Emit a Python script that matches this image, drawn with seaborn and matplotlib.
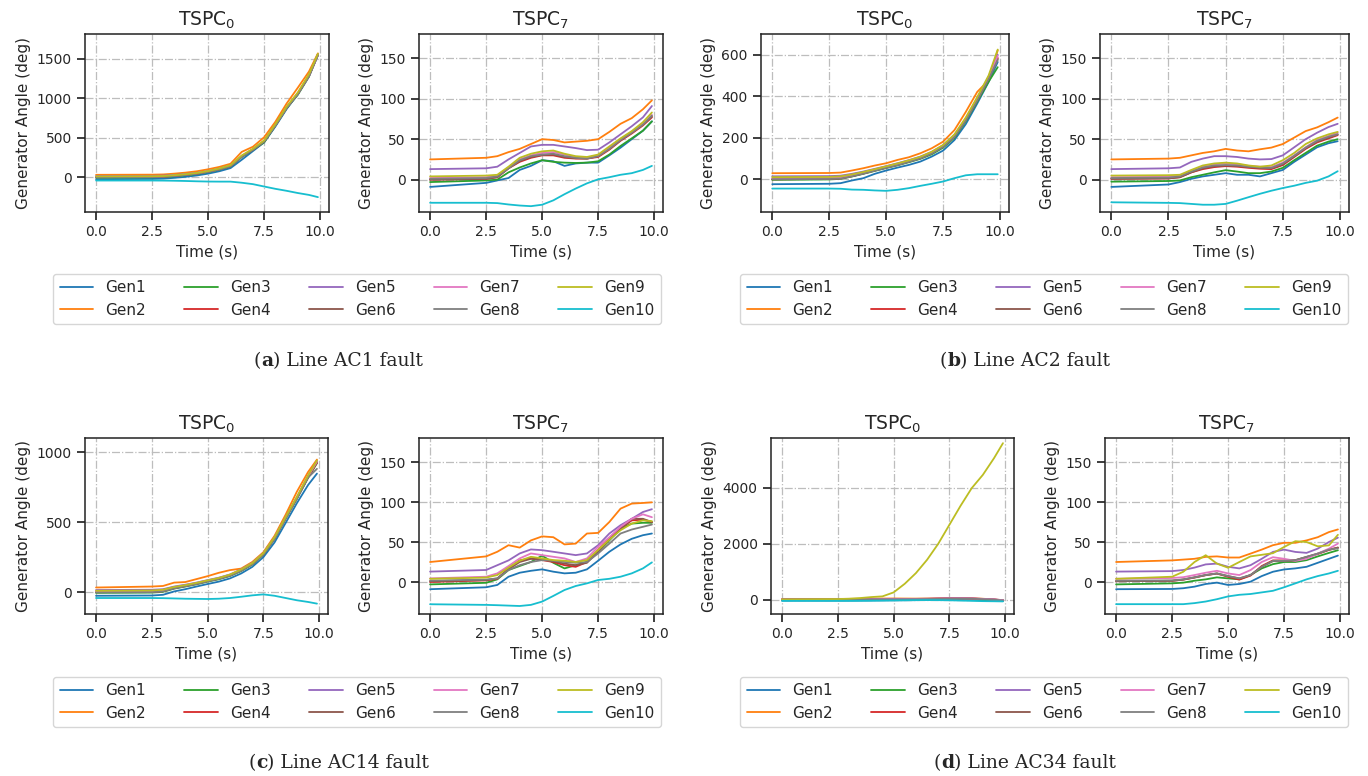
import matplotlib
matplotlib.use("Agg")
import matplotlib.pyplot as plt
from matplotlib.ticker import MultipleLocator
import pandas as pd
import seaborn as sns

# sample times (s)
TIME = [0, 2.5, 3, 3.5, 4, 4.5, 5, 5.5, 6, 6.5, 7, 7.5, 8, 8.5, 9, 9.5, 9.9]
GENS = ["Gen1", "Gen2", "Gen3", "Gen4", "Gen5", "Gen6", "Gen7", "Gen8", "Gen9", "Gen10"]

# --- (a) Line AC1 fault ---
AC1_TSPC0 = [
    [-25, -22, -18, -8, 5, 22, 45, 75, 115, 220, 330, 440, 640, 860, 1050, 1280, 1550],
    [30, 32, 35, 45, 58, 75, 100, 130, 170, 320, 385, 505, 700, 930, 1130, 1335, 1565],
    [-5, -2, 2, 12, 25, 40, 65, 95, 135, 255, 345, 440, 650, 870, 1040, 1270, 1545],
    [0, 3, 6, 16, 30, 45, 70, 100, 140, 262, 350, 455, 660, 880, 1055, 1285, 1550],
    [15, 17, 20, 28, 40, 55, 78, 108, 148, 265, 352, 460, 655, 875, 1050, 1275, 1540],
    [2, 5, 8, 18, 32, 48, 72, 102, 142, 260, 348, 452, 658, 878, 1052, 1282, 1548],
    [5, 8, 11, 21, 34, 50, 74, 104, 145, 268, 355, 458, 662, 882, 1060, 1288, 1552],
    [0, 3, 6, 16, 29, 45, 69, 99, 139, 258, 347, 450, 655, 873, 1048, 1278, 1545],
    [10, 12, 15, 25, 38, 54, 78, 110, 152, 275, 360, 465, 670, 890, 1070, 1300, 1560],
    [-42, -42, -43, -45, -48, -52, -55, -56, -56, -70, -88, -118, -147, -172, -200, -224, -252],
]
AC1_TSPC7 = [
    [-9, -4, -1, 2, 12, 17, 24, 22.7, 17, 20, 21, 21, 30, 39.5, 50, 60.5, 72],
    [25, 27, 29, 34, 38, 44, 50, 49, 46, 47, 48, 50, 59, 69, 76, 87, 98],
    [-3, -1, 0, 9, 15, 20, 24, 22, 21, 20.6, 21, 22.7, 31, 41.6, 51, 60.5, 72],
    [0, 1, 3, 14, 22, 27, 30, 30, 27, 26, 26, 28, 37, 48, 57, 67, 77],
    [13, 14, 16, 25, 33, 41, 43, 43, 41, 39, 36.5, 37, 46, 56, 66, 77, 91],
    [0, 1, 3, 14, 23, 28, 30.5, 31, 28, 26.5, 26, 29, 38, 49, 58, 68, 78],
    [2, 3, 5, 15, 25, 30, 33, 34, 31, 28, 27, 30, 39, 50, 59, 69, 80],
    [1, 2, 4, 14, 24, 29, 31, 32, 29, 27, 26, 29, 38, 49, 58, 68, 79],
    [4, 5, 6, 16, 27, 32, 35, 36, 32, 29, 28, 31, 41, 51, 60, 71, 83],
    [-28.6, -28.6, -29, -30.7, -32, -32.8, -31, -25.6, -18, -11, -4.6, 0.4, 3, 6, 8, 12, 17],
]

# --- (b) Line AC2 fault ---
AC2_TSPC0 = [
    [-24, -22, -19, -6, 5, 26, 42, 56, 69, 85, 109, 138, 189, 266, 365, 469, 565],
    [29, 30, 32, 42, 53, 66, 77, 93, 106, 125, 149, 181, 237, 325, 421, 477, 621],
    [-3, -1, 2, 13, 26, 40, 54, 67, 82, 98, 120, 152, 200, 280, 375, 470, 540],
    [0, 1, 4, 15, 28, 43, 57, 70, 86, 102, 126, 158, 207, 287, 383, 487, 585],
    [14, 15, 17, 26, 37, 50, 63, 77, 92, 109, 132, 164, 213, 293, 390, 495, 600],
    [0, 1, 4, 15, 28, 42, 56, 69, 85, 101, 125, 157, 205, 285, 381, 485, 580],
    [5, 6, 9, 19, 31, 45, 59, 72, 88, 104, 128, 160, 210, 290, 386, 490, 595],
    [0, 1, 3, 14, 27, 41, 55, 68, 84, 100, 124, 156, 204, 284, 380, 484, 575],
    [10, 11, 14, 23, 35, 48, 62, 76, 91, 108, 132, 165, 216, 298, 396, 500, 625],
    [-45, -45, -46, -50, -51, -54, -56, -51, -43, -32, -22, -11, 5, 19, 24, 24, 24],
]
AC2_TSPC7 = [
    [-9, -6, -3, 1, 4, 6, 8, 6, 6, 4, 8, 12, 22, 31, 40, 45, 47.5],
    [25, 26, 27, 30, 33, 35, 38, 36, 35, 37.5, 39.6, 44, 52, 60, 64.6, 71, 76.7],
    [-2.5, -1.7, -1, 3, 6, 9, 11.7, 10, 8, 8, 10, 14.6, 24, 33, 42, 47, 50],
    [1, 1.5, 3, 9, 13, 15.5, 16.7, 16, 14.6, 13.5, 13, 18, 28, 38, 46, 51, 55],
    [13, 14, 15, 22, 26, 29, 29, 28, 26, 25, 25.4, 30, 40, 50, 58, 65, 69],
    [1, 1.5, 3, 9, 14, 16.5, 17.5, 17, 15.5, 14.5, 14, 19, 29, 39, 47, 52, 56],
    [3, 3.5, 5, 11, 16, 19, 20, 19, 17, 16, 15.5, 21, 30, 40, 49, 54, 58],
    [2, 2.5, 4, 10, 15, 17.5, 18, 17.5, 16, 15, 14.5, 20, 29.5, 39.5, 48, 53, 56],
    [5, 5.5, 6, 12, 17.5, 20, 21, 20, 17.5, 16, 17.5, 24, 33, 44, 51, 56, 59],
    [-28, -28.7, -29, -30, -31, -31, -30, -26, -21.7, -17.5, -13.7, -10.4, -7.5, -4, -1.3, 4, 10.4],
]

# --- (c) Line AC14 fault ---
AC14_TSPC0 = [
    [-26, -24, -19, 5, 21, 40, 58, 75, 98, 133, 180, 250, 355, 495, 635, 764, 846],
    [33, 40, 44, 68, 72, 93, 114, 138, 157, 168, 215, 285, 402, 554, 717, 857, 946],
    [-5, -3, 2, 25, 40, 56, 75, 92, 115, 150, 197, 268, 380, 525, 665, 815, 920],
    [0, 2, 7, 29, 44, 60, 79, 96, 119, 155, 201, 271, 384, 528, 670, 820, 925],
    [15, 17, 21, 40, 53, 68, 86, 103, 126, 162, 208, 277, 390, 535, 676, 828, 935],
    [0, 2, 8, 30, 45, 61, 80, 97, 120, 156, 202, 272, 385, 530, 672, 822, 928],
    [5, 7, 12, 33, 47, 63, 82, 99, 123, 159, 205, 275, 388, 533, 675, 826, 932],
    [-2, 0, 5, 27, 42, 58, 77, 94, 117, 152, 199, 269, 382, 526, 668, 818, 880],
    [10, 12, 17, 37, 50, 66, 84, 101, 125, 161, 207, 278, 392, 537, 680, 832, 940],
    [-42, -42, -43, -45, -47, -48, -49, -47, -42, -33, -23, -16, -26, -42, -58, -70, -82],
]
AC14_TSPC7 = [
    [-9, -6.6, -3.7, 6.6, 11.6, 14, 15.8, 12.9, 10.8, 11.6, 15.8, 26.6, 37.8, 47, 54, 58.5, 60.6],
    [25, 32, 37.8, 46, 43, 52, 57, 56, 47, 48, 60.6, 61.4, 75, 91.7, 98, 98.8, 99.6],
    [-3, -1, 3.3, 15, 20, 25, 33, 24, 17, 21, 25, 37.8, 52, 67, 73, 74, 74],
    [0, 2, 4, 17, 27, 29.5, 27.4, 25, 21, 19, 25, 40, 54, 67, 77, 78, 75],
    [13, 15, 21, 27, 35.7, 40.7, 39.8, 37.8, 35.7, 33.6, 35.7, 46, 60.6, 71, 79, 87.5, 91],
    [1, 2.5, 4.5, 16, 25, 29, 28, 26, 23, 21, 24, 38, 53, 66, 79, 79, 75],
    [4.5, 6.6, 10.8, 20, 29.5, 35.7, 33.6, 31.5, 29.5, 25, 29.5, 44, 56, 69, 79, 84.6, 81],
    [1.7, 3, 4.5, 15, 21, 25, 27.4, 26.6, 25, 24, 25, 35.7, 48, 60.6, 65.6, 69, 71.8],
    [4, 5.5, 8.7, 18, 26.6, 31.5, 29.5, 27.4, 26.6, 25, 27.4, 40, 53, 64.7, 73, 77, 76],
    [-27.8, -28.6, -29, -29.5, -30, -28.6, -24.5, -17.4, -10, -5, -1.7, 2.5, 4, 6.6, 10.8, 17, 24.5],
]

# --- (d) Line AC34 fault ---
AC34_TSPC0 = [
    [-30, -30, -30, -28, -25, -22, -20, -18, -15, -10, -8, -5, -5, -10, -20, -30, -45],
    [30, 30, 31, 34, 38, 42, 45, 42, 40, 45, 55, 62, 65, 55, 35, 10, -15],
    [-5, -5, -4, -2, 2, 5, 8, 10, 12, 15, 18, 20, 18, 12, 0, -15, -30],
    [0, 0, 1, 4, 8, 12, 15, 18, 22, 28, 35, 42, 45, 40, 25, 5, -20],
    [15, 15, 16, 19, 22, 25, 28, 28, 30, 35, 42, 48, 50, 45, 30, 10, -15],
    [0, 0, 1, 4, 7, 10, 14, 16, 20, 26, 33, 40, 42, 38, 22, 3, -22],
    [5, 5, 6, 9, 13, 17, 20, 22, 26, 32, 40, 47, 50, 44, 28, 8, -18],
    [0, 0, 1, 3, 6, 9, 12, 14, 18, 24, 30, 36, 38, 34, 20, 0, -25],
    [10, 24, 36, 60, 95, 120, 262, 571, 952, 1428, 2000, 2678, 3357, 3988, 4464, 5060, 5595],
    [-40, -40, -40, -38, -35, -30, -25, -20, -15, -12, -15, -20, -30, -40, -50, -55, -60],
]
AC34_TSPC7 = [
    [-9, -8.7, -7.8, -5.8, -2.5, -0.8, -3.7, -2.5, 0.4, 7.4, 12.8, 15.7, 17, 19, 24, 29, 33],
    [25, 27, 28, 29, 31.4, 32, 30.6, 30.6, 35.5, 40.5, 46, 49, 49, 52, 56, 62.4, 65.7],
    [-3, -1.7, -0.8, 1.6, 3.3, 5.8, 4.5, 3.3, 8.7, 17, 22.3, 25, 25, 27.3, 32, 36.4, 39.7],
    [1, 1.5, 3, 5.5, 8.5, 10.5, 6.5, 3, 8, 20, 27, 27, 27, 31, 35, 40, 43],
    [13, 13.6, 15, 18, 22, 23, 19, 17, 21, 29, 37.6, 40.5, 37.6, 36.4, 41.7, 50, 55.4],
    [1, 1.5, 3, 5.8, 8.7, 10.7, 7.4, 4.5, 8.7, 19, 26, 26.4, 27.3, 31.4, 35.5, 40.5, 43],
    [4, 5, 6, 8.7, 11.6, 14, 10.7, 8.7, 14.9, 25, 31, 29, 26.4, 29, 35.5, 41.7, 48],
    [1.6, 2, 3.3, 5.8, 8.7, 10.7, 7.4, 4.5, 8.7, 19, 26.4, 26.4, 27.3, 31.4, 35.5, 40.5, 42],
    [4, 6.6, 12.8, 25, 33.5, 23, 17.8, 25, 32, 34, 36, 43.8, 51, 50, 44.6, 45.8, 59],
    [-27.7, -27.7, -27.7, -26.4, -24.4, -21.5, -18, -16, -15, -13, -11, -6.6, -1.7, 3.3, 7.4, 10.7, 14],
]

CASES = ["AC1", "AC2", "AC14", "AC34"]
TAGS = ["a", "b", "c", "d"]
SERIES = {
    "AC1": (AC1_TSPC0, AC1_TSPC7),
    "AC2": (AC2_TSPC0, AC2_TSPC7),
    "AC14": (AC14_TSPC0, AC14_TSPC7),
    "AC34": (AC34_TSPC0, AC34_TSPC7),
}

# layout (pixels in a 1368x776 canvas)
W, H = 1368, 776
AX_PX = {  # case: ((left0, width0), (left7, width7), top, bottom)
    "AC1": ((85, 244), (419, 244), 34, 212),
    "AC2": ((761, 248), (1100, 249), 34, 212),
    "AC14": ((85, 243), (419, 244), 438, 614),
    "AC34": ((771, 243), (1105, 244), 438, 614),
}
T0_YLIM = {"AC1": (-440, 1810), "AC2": (-158, 700), "AC14": (-156, 1100), "AC34": (-510, 5780)}
T0_STEP = {"AC1": 500, "AC2": 200, "AC14": 500, "AC34": 2000}
LEGEND_PX = {"AC1": (357, 299), "AC2": (1044, 299), "AC14": (357, 702), "AC34": (1044, 702)}
CAPTION_PX = {"AC1": (338, 361), "AC2": (1025, 361), "AC14": (339, 763), "AC34": (1025, 763)}

sns.set_theme(style="ticks", context="notebook", rc={
    "xtick.labelsize": 10, "ytick.labelsize": 10,
    "axes.labelsize": 11, "axes.titlesize": 13.5,
    "axes.linewidth": 1.1,
})
plt.rcParams["font.family"] = ["DejaVu Sans"]


def long_frame(block):
    rows = []
    for gen, vals in zip(GENS, block):
        for t, v in zip(TIME, vals):
            rows.append((t, v, gen))
    return pd.DataFrame(rows, columns=["Time", "Angle", "Generator"])


def style_axes(ax, title):
    ax.set_title(title)
    ax.set_xlabel("Time (s)")
    ax.set_ylabel("Generator Angle (deg)")
    ax.set_xlim(-0.495, 10.395)
    ax.xaxis.set_major_locator(MultipleLocator(2.5))
    ax.grid(True, linestyle="-.", color="#bdbdbd", linewidth=0.9)
    ax.set_axisbelow(True)
    for s in ax.spines.values():
        s.set_visible(True)
        s.set_color("#222222")


def caption(fig, renderer, cx, cy, parts):
    texts = []
    for txt, bold in parts:
        t = fig.text(0, 1 - cy / H, txt, fontsize=13.5, va="center", ha="left",
                     family=["DejaVu Serif"], fontweight="bold" if bold else "normal")
        texts.append(t)
    widths = [t.get_window_extent(renderer).width for t in texts]
    x = cx - sum(widths) / 2
    for t, w in zip(texts, widths):
        t.set_x(x / W)
        x += w


def main():
    fig = plt.figure(figsize=(W / 100, H / 100), dpi=100)
    palette = dict(zip(GENS, sns.color_palette("tab10", 10)))
    renderer = fig.canvas.get_renderer()

    for case, tag in zip(CASES, TAGS):
        (l0, w0), (l7, w7), top, bot = AX_PX[case]
        h = (bot - top) / H
        y = 1 - bot / H
        ax0 = fig.add_axes([l0 / W, y, w0 / W, h])
        ax7 = fig.add_axes([l7 / W, y, w7 / W, h])
        blocks = SERIES[case]

        for ax, block, title in ((ax0, blocks[0], r"TSPC$_0$"), (ax7, blocks[1], r"TSPC$_7$")):
            df = long_frame(block)
            sns.lineplot(data=df, x="Time", y="Angle", hue="Generator", hue_order=GENS,
                         palette=palette, estimator=None, sort=True, legend=False,
                         linewidth=1.3, ax=ax)
            style_axes(ax, title)

        ax0.set_ylim(*T0_YLIM[case])
        ax0.yaxis.set_major_locator(MultipleLocator(T0_STEP[case]))
        ax7.set_ylim(-40, 180)
        ax7.yaxis.set_major_locator(MultipleLocator(50))

        handles = ax0.get_lines()[:10]
        lx, ly = LEGEND_PX[case]
        fig.legend(handles, GENS, ncol=5, loc="center", fontsize=11,
                   bbox_to_anchor=(lx / W, 1 - ly / H), frameon=True,
                   edgecolor="#cccccc", handlelength=2.2, columnspacing=2.5)

        cx, cy = CAPTION_PX[case]
        caption(fig, renderer, cx, cy,
                [("(", False), (tag, True), (f") Line {case} fault", False)])

    fig.savefig("out.png", dpi=100)
    plt.close(fig)


if __name__ == "__main__":
    main()
